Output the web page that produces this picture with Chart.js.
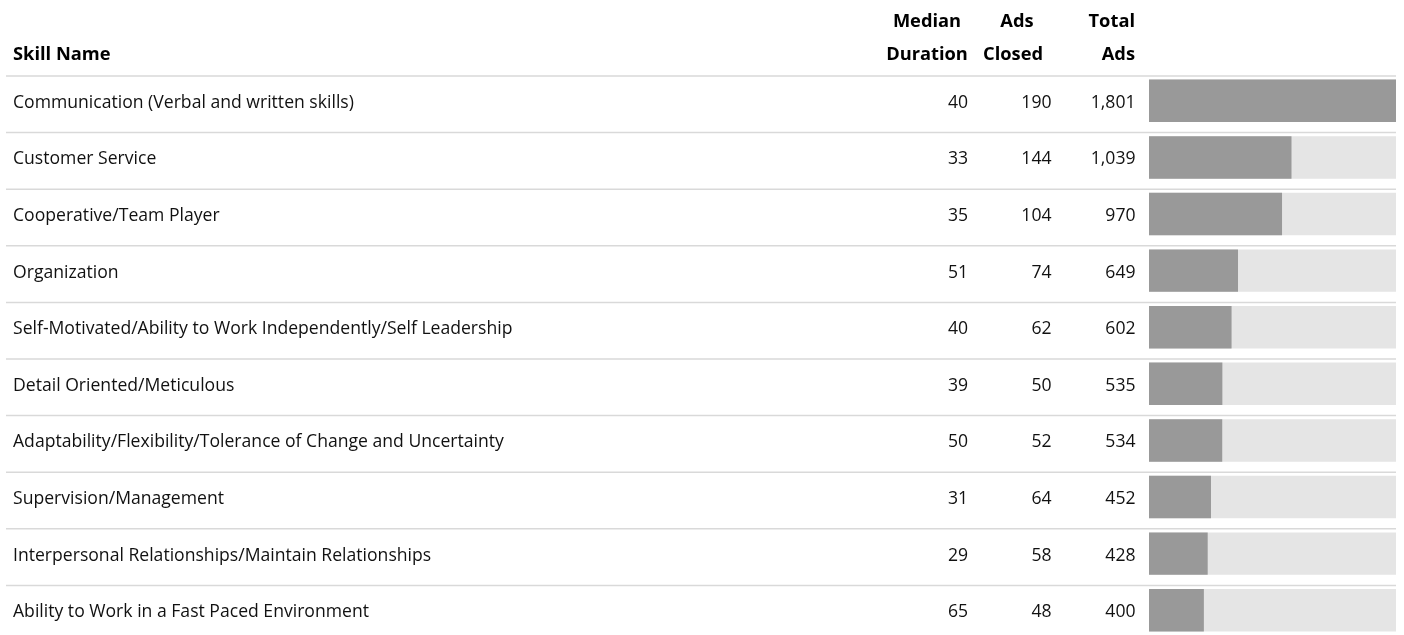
<!DOCTYPE html>
<html>
<head>
<meta charset="utf-8">
<script src="https://cdn.jsdelivr.net/npm/chart.js@4"></script>
<style>
  body { margin: 0; background: #fff; overflow: hidden; }
  #wrap { position: absolute; left: 0; top: 0; width: 1404px; height: 640px; }
</style>
</head>
<body>
<div id="wrap"><canvas id="SkillChart"></canvas></div>
<script>
const skills = [
    'Communication (Verbal and written skills)',
    'Customer Service',
    'Cooperative/Team Player',
    'Organization',
    'Self-Motivated/Ability to Work Independently/Self Leadership',
    'Detail Oriented/Meticulous',
    'Adaptability/Flexibility/Tolerance of Change and Uncertainty',
    'Supervision/Management',
    'Interpersonal Relationships/Maintain Relationships',
    'Ability to Work in a Fast Paced Environment'
];
const medianDuration = [40, 33, 35, 51, 40, 39, 50, 31, 29, 65];
const adsClosed = [190, 144, 104, 74, 62, 50, 52, 64, 58, 48];
const totalAds = [1801, 1039, 970, 649, 602, 535, 534, 452, 428, 400];
const maxAds = Math.max(...totalAds);

const bodyFont = '17.6px "Open Sans"';
const headFont = 'bold 18.3px "Open Sans"';

// table text + row lines, placed off the y scale of the chart
const tablePlugin = {
    id: 'tableText',
    beforeDatasetsDraw(chart) {
        const ctx = chart.ctx;
        const y = chart.scales.y;
        const step = y.getPixelForValue(1) - y.getPixelForValue(0);
        ctx.save();
        ctx.strokeStyle = '#d9d9d9';
        ctx.lineWidth = 1.5;
        skills.forEach((s, i) => {
            const top = y.getPixelForValue(i) - step / 2 + 3.5;
            ctx.beginPath();
            ctx.moveTo(6, top);
            ctx.lineTo(1396, top);
            ctx.stroke();
        });
        ctx.restore();
    },
    afterDatasetsDraw(chart) {
        const ctx = chart.ctx;
        const y = chart.scales.y;
        ctx.save();
        ctx.fillStyle = '#000';
        ctx.textBaseline = 'alphabetic';

        // header
        ctx.font = headFont;
        ctx.textAlign = 'left';
        ctx.fillText('Skill Name', 13, 59.5);
        ctx.textAlign = 'center';
        ctx.fillText('Median', 927, 26.5);
        ctx.fillText('Duration', 927, 59.5);
        ctx.fillText('Ads', 1017, 26.5);
        ctx.fillText('Closed', 1013, 59.5);
        ctx.textAlign = 'right';
        ctx.fillText('Total', 1135, 26.5);
        ctx.fillText('Ads', 1135, 59.5);

        ctx.font = bodyFont;
        ctx.fillStyle = '#111';
        skills.forEach((s, i) => {
            const base = y.getPixelForValue(i) + 7;
            ctx.textAlign = 'left';
            ctx.fillText(s, 13, base);
            ctx.textAlign = 'right';
            ctx.fillText(String(medianDuration[i]), 968, base);
            ctx.fillText(String(adsClosed[i]), 1051.5, base);
            ctx.fillText(totalAds[i].toLocaleString('en-US'), 1135.5, base);
        });
        ctx.restore();
    }
};

const stx = document.getElementById('SkillChart');
new Chart(stx, {
    type: 'bar',
    data: {
        labels: skills,
        datasets: [{
            label: 'Total Ads',
            data: totalAds,
            backgroundColor: '#999999',
            barPercentage: 0.75,
            categoryPercentage: 1,
            grouped: false,
            order: 1
        }, {
            label: 'track',
            data: skills.map(() => maxAds),
            backgroundColor: '#e5e5e5',
            barPercentage: 0.75,
            categoryPercentage: 1,
            grouped: false,
            order: 2
        }]
    },
    options: {
        indexAxis: 'y',
        responsive: true,
        maintainAspectRatio: false,
        animation: false,
        layout: {
            padding: { left: 1149, right: 8, top: 72.5, bottom: 1.5 }
        },
        scales: {
            x: { display: false, min: 0, max: maxAds },
            y: { display: false }
        },
        plugins: {
            legend: { display: false },
            tooltip: { enabled: false }
        }
    },
    plugins: [tablePlugin]
});
</script>
</body>
</html>
